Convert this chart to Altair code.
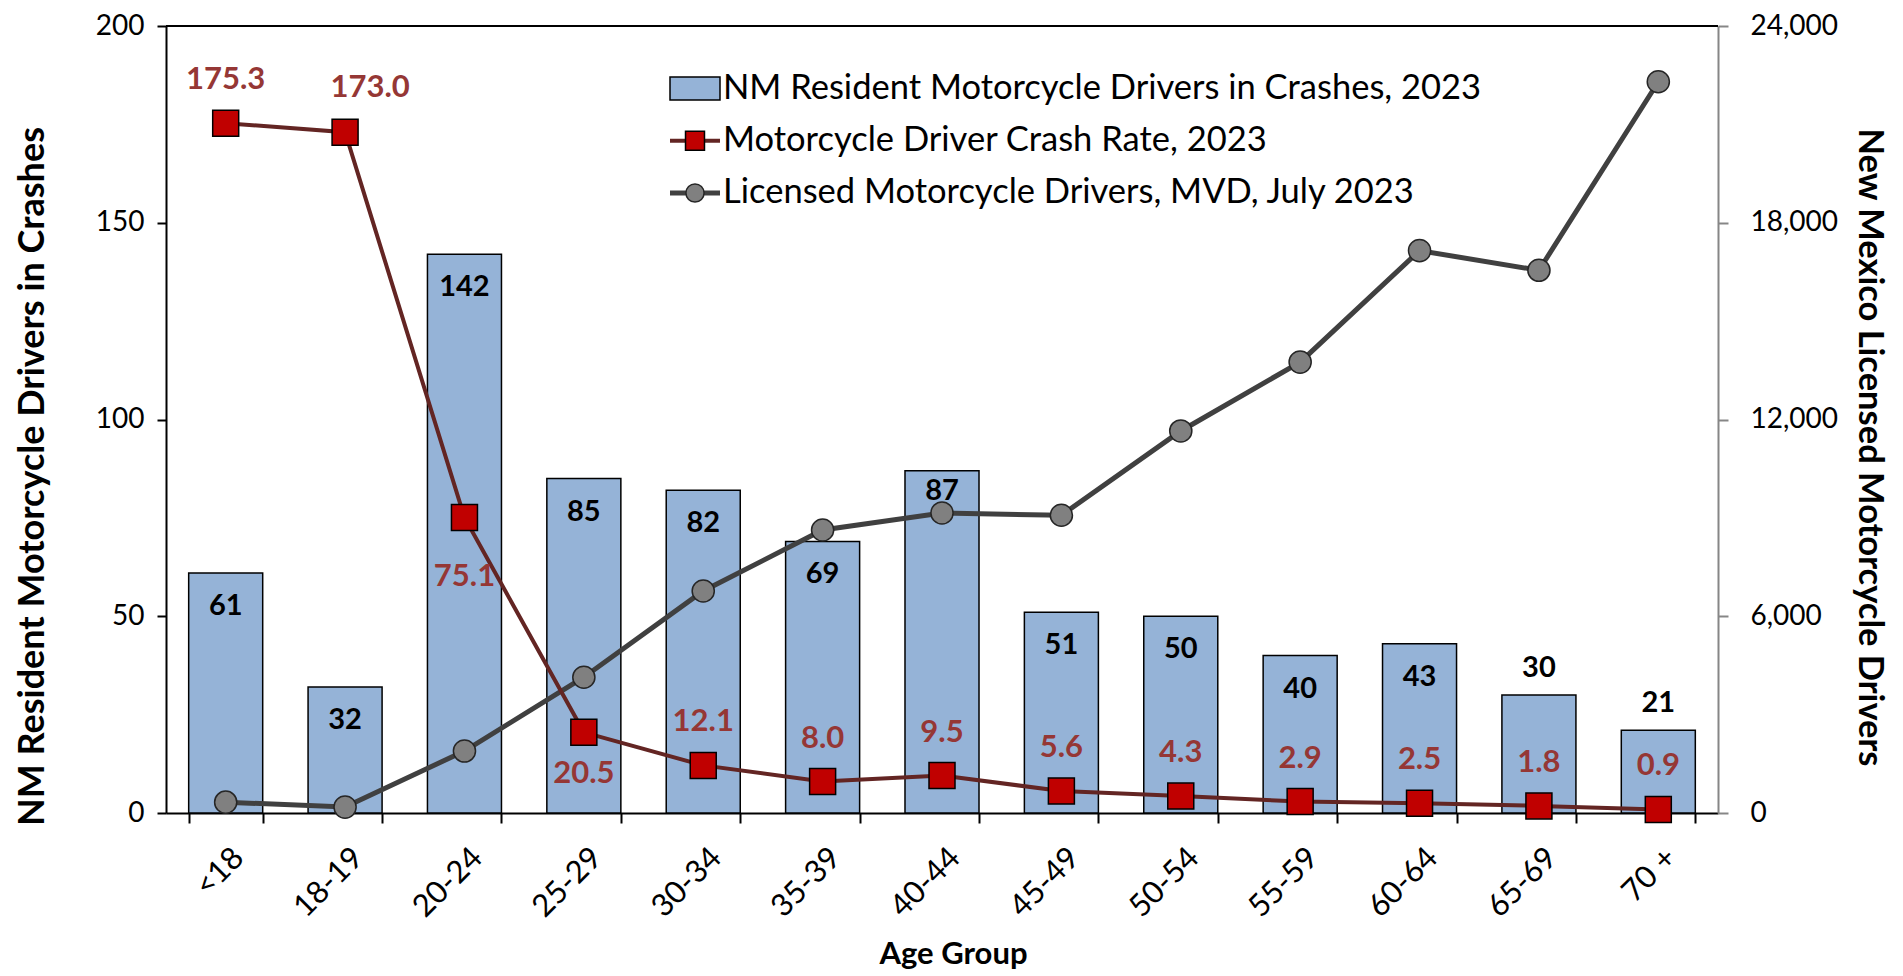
import altair as alt
import pandas as pd

categories = ["<18", "18-19", "20-24", "25-29", "30-34", "35-39", "40-44",
              "45-49", "50-54", "55-59", "60-64", "65-69", "70 +"]
crashes = [61, 32, 142, 85, 82, 69, 87, 51, 50, 40, 43, 30, 21]
crash_rate = [175.3, 173.0, 75.1, 20.5, 12.1, 8.0, 9.5, 5.6, 4.3, 2.9, 2.5, 1.8, 0.9]
licensed = [330, 180, 1890, 4140, 6770, 8630, 9150, 9080, 11650, 13750, 17150, 16550, 22300]

left_ticks = [0, 50, 100, 150, 200]
right_ticks = [0, 6000, 12000, 18000, 24000]

legend_labels = ["NM Resident Motorcycle Drivers in Crashes, 2023",
                 "Motorcycle Driver Crash Rate, 2023",
                 "Licensed Motorcycle Drivers, MVD, July 2023"]

df = pd.DataFrame({"Age Group": categories, "Crashes": crashes,
                   "Rate": crash_rate, "Licensed": licensed})
one = pd.DataFrame({"k": [1]})

W, H = 1552, 787
FONT = "Lato"
BAR_FILL = "#95B3D7"
RATE_LINE = "#632523"
RATE_FILL = "#C00000"
RATE_TEXT = "#953735"
LIC_LINE = "#404040"
LIC_FILL = "#808080"

x_axis = alt.Axis(
    title="Age Group", labelAngle=-45, labelAlign="right", labelBaseline="middle",
    labelFont=FONT, labelFontSize=31, labelColor="black", labelPadding=30, labelOffset=13,
    tickBand="extent", tickSize=10, tickColor="black", tickWidth=2,
    domainColor="black", domainWidth=2, grid=False,
    titleFont=FONT, titleFontSize=31, titleFontWeight="bold", titleColor="black",
    titleX=787, titleY=141, titleAlign="center", titleBaseline="middle",
)
x_enc = alt.X("Age Group:N", sort=categories,
              scale=alt.Scale(paddingInner=0.38, paddingOuter=0.19), axis=x_axis)

left_axis = alt.Axis(
    values=left_ticks, grid=False, title="NM Resident Motorcycle Drivers in Crashes",
    domainColor="black", domainWidth=2, tickColor="black", tickWidth=2, tickSize=9,
    labelFont=FONT, labelFontSize=28, labelColor="black", labelPadding=13,
    titleFont=FONT, titleFontSize=36, titleFontWeight="bold", titleColor="black",
    titleX=-134, titleY=450, titleAngle=-90, titleAlign="center", titleBaseline="middle",
)
right_axis = alt.Axis(
    orient="right", values=right_ticks, labelExpr="format(datum.value, ',')", grid=False,
    title="New Mexico Licensed Motorcycle Drivers",
    domainColor="#868686", domainWidth=2, tickColor="#868686", tickWidth=2, tickSize=10,
    labelFont=FONT, labelFontSize=28, labelColor="black", labelPadding=22,
    titleFont=FONT, titleFontSize=34.5, titleFontWeight="bold", titleColor="black",
    titleX=150, titleY=421, titleAngle=90, titleAlign="center", titleBaseline="middle",
)

y_left = alt.Y("Crashes:Q", scale=alt.Scale(domain=[0, 200], nice=False), axis=left_axis)
y_right = alt.Y("Licensed:Q", scale=alt.Scale(domain=[0, 24000], nice=False), axis=right_axis)
y_rate = alt.Y("Rate:Q", scale=alt.Scale(domain=[0, 200], nice=False), axis=None)

# ---- bars (left axis)
bars = alt.Chart(df).mark_bar(color=BAR_FILL, stroke="black", strokeWidth=1.5).encode(
    x=x_enc, y=y_left)


def bar_text(cats, dy):
    return alt.Chart(df).transform_filter(
        alt.FieldOneOfPredicate(field="Age Group", oneOf=cats)
    ).mark_text(font=FONT, fontSize=29, fontWeight="bold", color="black",
                baseline="middle", dy=dy).encode(
        x=x_enc, y=y_left, text=alt.Text("Crashes:Q"))


inside = [c for c in categories[:11] if c != "40-44"]
left_group = alt.layer(bars, bar_text(inside, 33), bar_text(["40-44"], 20),
                       bar_text(categories[11:], -27))

# ---- licensed drivers (right axis)
lic_line = alt.Chart(df).mark_line(color=LIC_LINE, strokeWidth=5).encode(x=x_enc, y=y_right)
lic_pts = alt.Chart(df).mark_circle(size=490, color=LIC_FILL, stroke="#262626",
                                    strokeWidth=1.5, opacity=1).encode(x=x_enc, y=y_right)
right_group = alt.layer(lic_line, lic_pts)

# ---- crash rate (left scale, no axis)
rate_line = alt.Chart(df).mark_line(color=RATE_LINE, strokeWidth=4).encode(x=x_enc, y=y_rate)
rate_pts = alt.Chart(df).mark_square(size=676, color=RATE_FILL, stroke="black",
                                     strokeWidth=1.5, opacity=1).encode(x=x_enc, y=y_rate)
above = [c for c in categories if c not in ("18-19", "20-24", "25-29")]


def rate_text(cats, dx, dy):
    return alt.Chart(df).transform_filter(
        alt.FieldOneOfPredicate(field="Age Group", oneOf=cats)
    ).mark_text(font=FONT, fontSize=31, fontWeight="bold", color=RATE_TEXT,
                baseline="middle", dx=dx, dy=dy).encode(
        x=x_enc, y=y_rate, text=alt.Text("Rate:Q", format=".1f"))


rate_group = alt.layer(
    rate_line, rate_pts,
    rate_text(above, 0, -43),
    rate_text(["18-19"], 25, -44),
    rate_text(["20-24"], 0, 60),
    rate_text(["25-29"], 0, 42),
)

# ---- legend (drawn inside the plot, top right)
LX, LT = 504, 557
rows = [62.6, 114.8, 167.0]
leg_bar = alt.Chart(one).mark_rect(color=BAR_FILL, stroke="black", strokeWidth=1.5).encode(
    x=alt.value(LX), x2=alt.value(LX + 50), y=alt.value(rows[0] - 11.5), y2=alt.value(rows[0] + 11.5))
leg_rate_line = alt.Chart(one).mark_rule(color=RATE_LINE, strokeWidth=4).encode(
    x=alt.value(LX), x2=alt.value(LX + 50), y=alt.value(rows[1]))
leg_rate_pt = alt.Chart(one).mark_square(size=360, color=RATE_FILL, stroke="black",
                                         strokeWidth=1.5, opacity=1).encode(
    x=alt.value(LX + 25), y=alt.value(rows[1]))
leg_lic_line = alt.Chart(one).mark_rule(color=LIC_LINE, strokeWidth=5).encode(
    x=alt.value(LX), x2=alt.value(LX + 50), y=alt.value(rows[2]))
leg_lic_pt = alt.Chart(one).mark_circle(size=330, color=LIC_FILL, stroke="#262626",
                                        strokeWidth=1.5, opacity=1).encode(
    x=alt.value(LX + 25), y=alt.value(rows[2]))
leg_texts = [
    alt.Chart(one).mark_text(font=FONT, fontSize=34.5, color="black", align="left",
                             baseline="middle").encode(
        x=alt.value(LT), y=alt.value(r), text=alt.value(t))
    for r, t in zip(rows, legend_labels)
]
top_border = alt.Chart(one).mark_rule(color="black", strokeWidth=2).encode(
    x=alt.value(0), x2=alt.value(W), y=alt.value(0))

chart = alt.layer(
    left_group, right_group, rate_group,
    leg_bar, leg_rate_line, leg_rate_pt, leg_lic_line, leg_lic_pt, *leg_texts, top_border,
).resolve_scale(y="independent").properties(
    width=W, height=H,
    autosize=alt.AutoSizeParams(type="none"),
    padding={"left": 158, "top": 18, "right": 177, "bottom": 157},
).configure_view(stroke=None).configure(background="white")

chart.save("out.html", embed_options={"renderer": "svg", "actions": False})
